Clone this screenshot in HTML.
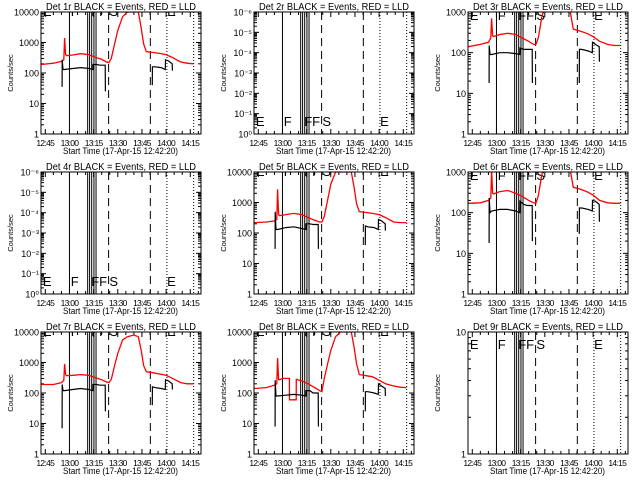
<!DOCTYPE html>
<html><head><meta charset="utf-8"><style>
html,body{margin:0;padding:0;background:#fff}
svg{display:block;font-family:"Liberation Sans",sans-serif}
</style></head><body>
<svg id="c" width="640" height="480" viewBox="0 0 640 480"></svg>
<script>
// shared time axes (clock minutes after 12:00)
const redTimes = [42.5,50,55,56.5,57,57.6,58.2,62,67,72,76,80,83,84.5,86,88,90,93,96,100,102.7,104.5,106,107.7,112,116,120,124,129,133,137];
const redTimes8 = [42.5,50,55,56.5,57,57.6,58.2,60,64.3,64.4,68.5,68.6,72,76,80,83,84.5,86,88,90,93,96,100,102.7,104.5,106,107.7,112,116,120,124,129,133,137];
const blackTimes = [55.4,55.5,56,57,62,67,72,74.5,74.6,77,79,82.2,82.3,null,111.4,111.5,113,117,119.5,119.6,121.5,123.8,123.9];
const red1 = [190,210,240,270,1400,400,370,390,430,400,330,280,230,220,300,900,2500,7000,10000,10000,10000,3000,900,500,470,440,400,320,230,210,200];
const black1 = [35,270,130,130,140,150,140,130,190,190,180,180,25,null,40,160,160,150,130,270,250,200,120];
const red3 = [140,160,180,230,700,260,250,280,300,280,230,190,160,160,230,700,1500,5000,9000,9000,9000,3000,900,380,340,300,250,190,160,150,150];
const black3 = [18,150,90,90,100,100,95,90,130,120,120,120,18,null,18,120,120,110,100,180,160,140,60];
const red5 = [220,230,250,280,2700,400,370,400,440,400,320,260,230,230,350,1200,4000,10000,10000,10000,10000,3000,900,500,470,440,400,320,230,220,220];
const black5 = [30,500,130,130,150,160,140,130,200,200,190,190,30,null,40,170,160,150,130,280,250,200,120];
const red6 = [170,175,200,230,1100,300,290,330,350,300,250,200,175,170,260,800,2000,6000,9000,9000,9000,3000,1000,420,380,330,270,200,175,170,170];
const black6 = [18,230,100,110,120,120,110,100,190,160,150,150,20,null,30,130,130,120,110,200,190,160,60];
const red7 = [190,190,220,260,900,400,370,380,400,380,320,270,230,220,280,800,2000,5500,7000,8000,7000,2500,800,500,460,420,380,300,220,200,200];
const black7 = [7,190,120,120,130,140,130,120,190,190,180,180,25,null,40,160,150,140,130,270,250,200,130];
const red8 = [140,150,180,200,1400,280,270,300,300,60,60,280,250,200,150,120,110,300,900,2500,7000,10000,10000,10000,3000,900,400,370,340,260,200,170,155,150];
const black8 = [8,260,80,80,85,90,85,80,120,120,100,100,8,null,25,110,110,100,90,200,170,140,80];
const xTickLabels = ["12:45","13:00","13:15","13:30","13:45","14:00","14:15"];
const xTickTimes = [45,60,75,90,105,120,135];
const solidLines = [60,71.3,72.5,73.8,75.2,76.5];
const dashedLines = [84.3,110.2];
const dottedLines = [120.5,137.1];
const markerLabels = ["E","F","FF","S","E"];
const markerTimes = [43.5,60.8,73.5,84.8,120.6];
const panelDet = ["1r","2r","3r","4r","5r","6r","7r","8r","9r"];

const panels = [
 {red:red1,rt:redTimes,black:black1,lmin:0,lmax:4,mark:'clip'},
 {lmin:0,lmax:6,exp:true,mark:'low'},
 {red:red3,rt:redTimes,black:black3,lmin:0,lmax:3,mark:'top'},
 {lmin:0,lmax:6,exp:true,mark:'low'},
 {red:red5,rt:redTimes,black:black5,lmin:0,lmax:4,mark:'clip'},
 {red:red6,rt:redTimes,black:black6,lmin:0,lmax:3,mark:'top'},
 {red:red7,rt:redTimes,black:black7,lmin:0,lmax:4,mark:'clip'},
 {red:red8,rt:redTimes8,black:black8,lmin:0,lmax:4,mark:'clip'},
 {lmin:0,lmax:1,mark:'top9'}
];
const expLabels = ["10⁰","10⁻¹","10⁻²","10⁻³","10⁻⁴","10⁻⁵","10⁻⁶"];
const NS="http://www.w3.org/2000/svg";
const svg=document.getElementById('c');
function mk(tag,attrs,parent){const e=document.createElementNS(NS,tag);for(const k in attrs)e.setAttribute(k,attrs[k]);(parent||svg).appendChild(e);return e;}
const PX=1.611, T0=42.333;
panels.forEach((p,i)=>{
  const col=i%3,row=Math.floor(i/3);
  const ox=Math.round(col*213.33),oy=row*160;
  const L=ox+41,R=ox+201,T=oy+12,B=oy+134;
  const xs=t=>L+(t-T0)*PX;
  const ys=v=>B-(Math.log10(v)-p.lmin)/(p.lmax-p.lmin)*(B-T);
  const g=mk('g',{});
  
  
  const cp=mk('clipPath',{id:'cp'+i},g);
  mk('rect',{x:L,y:T,width:R-L,height:B-T},cp);
  const tt=mk('text',{x:ox+46,y:oy+10,'font-size':'10.5',textLength:'150',lengthAdjust:'spacingAndGlyphs'},g);
  tt.textContent='Det '+panelDet[i]+' BLACK = Events, RED = LLD';
  
  
  const yl=mk('text',{x:0,y:0,'text-anchor':'middle','font-size':'7.5',transform:`translate(${ox+13},${(T+B)/2}) rotate(-90)`},g);
  yl.textContent='Counts/sec';
  
  
  const xl=mk('text',{x:ox+63,y:oy+154,'font-size':'9.5',textLength:'115',lengthAdjust:'spacingAndGlyphs'},g);
  xl.textContent='Start Time (17-Apr-15 12:42:20)';
  
  
  for(let t=45;t<=140;t+=5){
    const x=xs(t); if(x>R) break;
    const len=(t%15===0)?5:3;
    mk('line',{x1:x,x2:x,y1:B,y2:B-len,stroke:'#000'},g);
    mk('line',{x1:x,x2:x,y1:T,y2:T+len,stroke:'#000'},g);
  }
  xTickTimes.forEach((t,k)=>{
    const e=mk('text',{x:xs(t),y:oy+146,'font-size':'8.5','text-anchor':'middle','letter-spacing':'-0.7'},g);
    e.textContent=xTickLabels[k];
    
    
  });
  for(let d=p.lmin;d<p.lmax;d++){
    for(let m=1;m<10;m++){
      const y=ys(m*Math.pow(10,d));const len=m===1?5:3;
      mk('line',{x1:L,x2:L+len,y1:y,y2:y,stroke:'#000'},g);
      mk('line',{x1:R,x2:R-len,y1:y,y2:y,stroke:'#000'},g);
    }
  }
  for(let d=p.lmin;d<=p.lmax;d++){
    const e=mk('text',{x:L-2,y:ys(Math.pow(10,d))+3.5,'text-anchor':'end','font-size':'9'},g);
    e.textContent=p.exp?expLabels[d]:String(Math.pow(10,d));
    
    
  }
  solidLines.forEach(t=>{mk('line',{x1:xs(t),x2:xs(t),y1:T,y2:B,stroke:'#000','stroke-width':'1'},g);});
  dashedLines.forEach(t=>{mk('line',{x1:xs(t),x2:xs(t),y1:T,y2:B,stroke:'#000','stroke-dasharray':'8,5'},g);});
  dottedLines.forEach(t=>{mk('line',{x1:xs(t),x2:xs(t),y1:T,y2:B,stroke:'#000','stroke-dasharray':'1,2'},g);});
  const my={clip:oy+16,top:oy+20,low:oy+126,top9:oy+29}[p.mark];
  const mg=mk('g',{'clip-path':'url(#cp'+i+')'},g);
  markerLabels.forEach((s,k)=>{
    const e=mk('text',{x:xs(markerTimes[k]),y:my,'font-size':'13'},mg);
    e.textContent=s;
    
    
  });
  const cg=mk('g',{'clip-path':'url(#cp'+i+')'},g);
  function path(ts,vs){let d='',pen=false;
    for(let k=0;k<ts.length;k++){ if(ts[k]===null||vs[k]===null){pen=false;continue;}
      const v=Math.max(vs[k],1e-9);
      d+=(pen?'L':'M')+xs(ts[k]).toFixed(1)+','+ys(v).toFixed(1);pen=true;}
    return d;}
  if(p.red){
    const r=mk('path',{d:path(p.rt,p.red),fill:'none',stroke:'#ff0000','stroke-width':'1.3'},cg);
    
    
    const b=mk('path',{d:path(blackTimes,p.black),fill:'none',stroke:'#000','stroke-width':'1.2'},cg);
    
    
  }
  mk('rect',{x:L,y:T,width:R-L,height:B-T,fill:'none',stroke:'#000','stroke-width':'1'},g);
});
</script>
</body></html>
